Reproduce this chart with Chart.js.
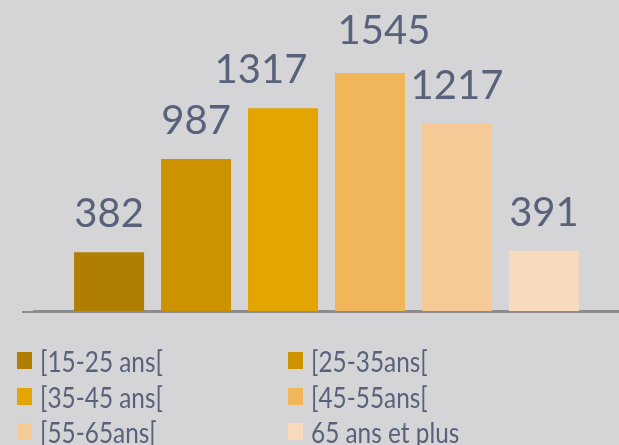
<!DOCTYPE html>
<html lang="fr">
<head>
    <meta charset="UTF-8">
    <title>Répartition par âge</title>
    <script src="https://cdn.jsdelivr.net/npm/chart.js"></script>
    <style>
        html, body {
            margin: 0;
            padding: 0;
            background: #d5d5d8;
            width: 619px;
            height: 445px;
            overflow: hidden;
            font-family: Lato, sans-serif;
        }
        .chart-container {
            position: absolute;
            left: 0;
            top: 0;
            width: 619px;
            height: 445px;
        }
        #legend {
            position: absolute;
            left: 17px;
            top: 343px;
            display: grid;
            grid-template-columns: 271px 260px;
            color: #59627a;
            font-size: 29px;
        }
        .item {
            display: flex;
            align-items: center;
            height: 35.5px;
            white-space: nowrap;
        }
        .box {
            width: 15px;
            height: 17px;
            margin-right: 8px;
            flex: none;
        }
        .txt {
            display: inline-block;
            transform: scaleX(0.84);
            transform-origin: left center;
        }
    </style>
</head>
<body>
    <div class="chart-container">
        <canvas id="ageChart"></canvas>
    </div>
    <div id="legend"></div>

    <script>
        // données
        const tranches = ['[15-25 ans[', '[25-35ans[', '[35-45 ans[', '[45-55ans[', '[55-65ans[', '65 ans et plus'];
        const effectifs = [382, 987, 1317, 1545, 1217, 391];
        const couleurs = ['#b07e00', '#cc9200', '#e5a500', '#f2b65a', '#f5ca96', '#f8dbbd'];

        // petits décalages des étiquettes (comme dans l'original)
        const decalageX = [0, 0, -22, 14, 0, 0];
        const decalageY = [0, 0, 0, -4, 0, 0];

        // plugin pour écrire la valeur au-dessus de chaque barre
        const valeurs = {
            id: 'valeurs',
            afterDatasetsDraw(chart) {
                const ctx = chart.ctx;
                ctx.save();
                ctx.font = '40px Lato';
                ctx.fillStyle = '#59627a';
                ctx.textAlign = 'center';
                ctx.textBaseline = 'alphabetic';
                chart.data.datasets.forEach((ds, i) => {
                    const bar = chart.getDatasetMeta(i).data[0];
                    ctx.fillText(ds.data[0], bar.x + decalageX[i], bar.y - 25 + decalageY[i]);
                });
                ctx.restore();
            }
        };

        // la ligne de l'axe part plus à gauche que les barres
        const ligneAxe = {
            id: 'ligneAxe',
            afterDraw(chart) {
                const ctx = chart.ctx;
                const y = chart.chartArea.bottom + 1;
                ctx.save();
                ctx.strokeStyle = '#8c8c8c';
                ctx.lineWidth = 2;
                ctx.beginPath();
                ctx.moveTo(22, y);
                ctx.lineTo(chart.width, y);
                ctx.stroke();
                ctx.restore();
            }
        };

        const ctx = document.getElementById('ageChart').getContext('2d');
        const ageChart = new Chart(ctx, {
            type: 'bar',
            data: {
                labels: [''],
                datasets: tranches.map((t, i) => ({
                    label: t,
                    data: [effectifs[i]],
                    backgroundColor: couleurs[i]
                }))
            },
            options: {
                responsive: true,
                maintainAspectRatio: false,
                animation: false,
                categoryPercentage: 0.892,
                barPercentage: 0.805,
                layout: {
                    padding: { left: 34, right: 0, top: 3, bottom: 126 }
                },
                plugins: {
                    legend: { display: false },
                    tooltip: { enabled: false }
                },
                scales: {
                    x: {
                        grid: { display: false },
                        ticks: { display: false },
                        border: { color: '#8c8c8c', width: 2 }
                    },
                    y: {
                        display: false,
                        min: 0,
                        max: 2000
                    }
                }
            },
            plugins: [valeurs, ligneAxe]
        });

        // légende en deux colonnes
        const legend = document.getElementById('legend');
        tranches.forEach((t, i) => {
            const item = document.createElement('div');
            item.className = 'item';
            const box = document.createElement('span');
            box.className = 'box';
            box.style.background = couleurs[i];
            const txt = document.createElement('span');
            txt.className = 'txt';
            txt.textContent = t;
            item.appendChild(box);
            item.appendChild(txt);
            legend.appendChild(item);
        });
    </script>
</body>
</html>
